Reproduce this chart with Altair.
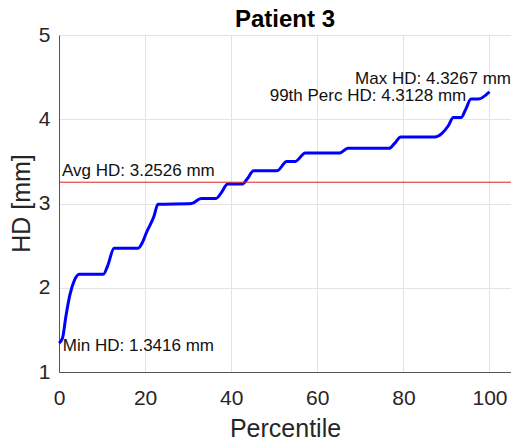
import altair as alt
import pandas as pd

# Curve (percentile vs HD)
pct = [0, 0.8, 1.6, 2.5, 3.6, 4.7, 10.3, 11.3, 12.8, 18.4, 19.3, 20.4, 22.0, 23.0,
       30.8, 33.0, 36.5, 37.6, 39.2, 42.6, 43.7, 45.2, 50.7, 52.9, 54.9, 57.2,
       65.2, 67.1, 76.7, 77.9, 79.4, 87.3, 88.9, 90.4, 91.6, 93.4, 94.5, 95.7,
       97.4, 100]
hd = [1.3416, 1.40, 1.66, 1.91, 2.09, 2.16, 2.16, 2.26, 2.47, 2.47, 2.53, 2.665, 2.84, 2.99,
      3.00, 3.06, 3.06, 3.12, 3.23, 3.23, 3.29, 3.39, 3.39, 3.50, 3.50, 3.60,
      3.60, 3.655, 3.655, 3.71, 3.79, 3.79, 3.83, 3.92, 4.02, 4.02, 4.12, 4.24,
      4.24, 4.3267]

avg_hd = 3.2526

label_text = ["Avg HD: 3.2526 mm", "Min HD: 1.3416 mm", "Max HD: 4.3267 mm", "99th Perc HD: 4.3128 mm"]
label_x = [0.7, 0.9, 105, 94.6]
label_y = [3.2526, 1.3416, 4.3267, 4.3128]
label_align = ["left", "left", "right", "right"]
label_dy = [-6, 7.5, -7.5, 7.8]

x_ticks = [0, 20, 40, 60, 80, 100]
y_ticks = [1, 2, 3, 4, 5]

FONT = "Liberation Sans"

curve = pd.DataFrame({"pct": pct, "hd": hd})

xscale = alt.Scale(domain=[0, 105], nice=False, zero=False)
yscale = alt.Scale(domain=[1, 5], nice=False, zero=False)

xaxis = alt.Axis(values=x_ticks, title="Percentile", grid=True, format="d",
                 ticks=False, labelPadding=15, labelFontSize=21, titleFontSize=25,
                 labelFont=FONT, titleFont=FONT, labelColor="#262626", titleColor="#262626",
                 titleFontWeight="normal", gridColor="#e3e3e3", domainColor="#555555",
                 titlePadding=8, labelFlush=False)
yaxis = alt.Axis(values=y_ticks, title="HD [mm]", grid=True, format="d",
                 ticks=False, labelPadding=9, labelFontSize=21, titleFontSize=25,
                 labelFont=FONT, titleFont=FONT, labelColor="#262626", titleColor="#262626",
                 titleFontWeight="normal", gridColor="#e3e3e3", domainColor="#555555",
                 titleAngle=270, titleAlign="center", titleBaseline="alphabetic",
                 titleX=-30, titleY=168, labelFlush=False)

line = alt.Chart(curve).mark_line(color="#0000ff", strokeWidth=3, interpolate="monotone").encode(
    x=alt.X("pct:Q", scale=xscale, axis=xaxis),
    y=alt.Y("hd:Q", scale=yscale, axis=yaxis),
)

avg = alt.Chart(pd.DataFrame({"y": [avg_hd]})).mark_rule(color="#e02020", strokeWidth=1).encode(
    y=alt.Y("y:Q", scale=yscale)
)

layers = [line, avg]
for t, lx, ly, la, ldy in zip(label_text, label_x, label_y, label_align, label_dy):
    layers.append(
        alt.Chart(pd.DataFrame({"x": [lx], "y": [ly], "t": [t]})).mark_text(
            align=la, baseline="alphabetic", dy=ldy, fontSize=17, font=FONT, color="#111111"
        ).encode(x=alt.X("x:Q", scale=xscale), y=alt.Y("y:Q", scale=yscale), text="t:N")
    )

chart = alt.layer(*layers).properties(
    width=452, height=337,
    title=alt.TitleParams("Patient 3", font=FONT, fontSize=24, fontWeight="bold", color="#000000",
                          anchor="middle", offset=-8),
    autosize=alt.AutoSizeParams(type="none"),
    padding={"left": 51, "top": 27, "right": 0, "bottom": 70},
).configure_view(stroke="#555555", strokeWidth=1).configure(background="white")

chart.save("out.html", embed_options={"renderer": "svg", "actions": False})
